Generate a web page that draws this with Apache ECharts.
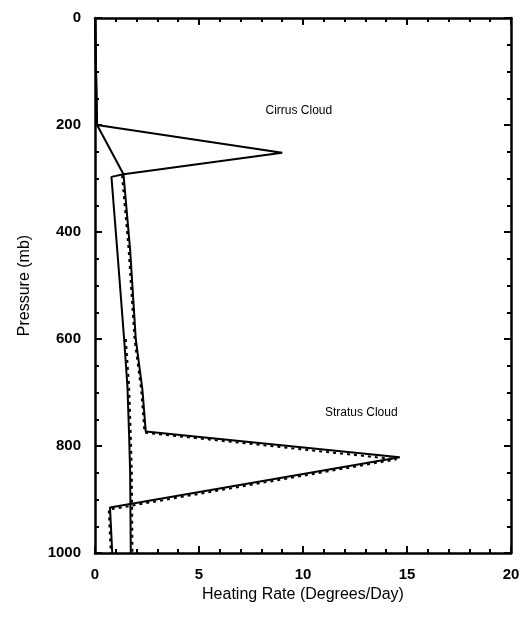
<!DOCTYPE html>
<html>
<head>
<meta charset="utf-8">
<script src="https://cdn.jsdelivr.net/npm/echarts@6/dist/echarts.min.js"></script>
<style>html,body{margin:0;padding:0;background:#fff}#c{width:523px;height:627px}</style>
</head>
<body>
<div id="c"></div>
<script>
// Cirrus cloud case (solid)
var cirrusX = [0, 0.05, 0.1, 9.0, 1.37, 0.79, 1.07, 1.40, 1.56, 1.64, 1.69, 1.72];
var cirrusP = [0, 100, 200, 252, 292, 297, 434, 600, 689, 780, 850, 1000];
// Stratus cloud case (solid)
var stratusX = [0, 0.05, 0.1, 1.37, 1.69, 1.96, 2.28, 2.44, 14.65, 0.72, 0.83];
var stratusP = [0, 100, 200, 292, 434, 600, 695, 773, 821, 915, 1000];
// Dashed companion curves
var dashAX = [1.30, 1.62, 1.90, 2.22, 2.38, 14.5, 0.66, 0.76];
var dashAP = [294, 434, 600, 695, 775, 825, 919, 1000];
var dashBX = [1.48, 1.64, 1.72, 1.77, 1.80];
var dashBP = [600, 689, 780, 850, 1000];
// Annotations
var labelText = ["Cirrus Cloud", "Stratus Cloud"];
var labelX = [9.8, 12.8];
var labelP = [173, 738];
var xTicks = [0, 5, 10, 15, 20];
var yTicks = [0, 200, 400, 600, 800, 1000];

function zip(xs, ps) { return xs.map(function (v, i) { return [v, ps[i]]; }); }

var FONT = '"Liberation Sans", Arial, sans-serif';
var axisLine = { show: true, onZero: false, lineStyle: { color: '#000', width: 2.5 } };
var tick = { show: true, inside: true, length: 7, lineStyle: { color: '#000', width: 2 } };
var minor = { show: true, length: 4, lineStyle: { color: '#000', width: 2 } };
var plain = function (v) { return String(v); };

var chart = echarts.init(document.getElementById('c'));
var lineBase = { type: 'line', symbol: 'none', smooth: false, silent: true, animation: false };
chart.setOption({
  backgroundColor: '#fff',
  animation: false,
  grid: { left: 95, right: 12, top: 18, bottom: 74 },
  xAxis: [{
    type: 'value', position: 'bottom', min: xTicks[0], max: xTicks[xTicks.length - 1], interval: 5,
    axisLine: axisLine, axisTick: tick, minorTick: Object.assign({ splitNumber: 5 }, minor),
    splitLine: { show: false },
    axisLabel: { color: '#000', fontFamily: FONT, fontWeight: 'bold', fontSize: 15, margin: 14, formatter: plain },
    name: 'Heating Rate (Degrees/Day)', nameLocation: 'middle', nameGap: 31,
    nameTextStyle: { color: '#000', fontFamily: FONT, fontSize: 16 }
  }, {
    type: 'value', position: 'top', min: 0, max: 20, interval: 5,
    axisLine: axisLine, axisTick: tick, minorTick: Object.assign({ splitNumber: 5 }, minor),
    splitLine: { show: false }, axisLabel: { show: false }
  }],
  yAxis: [{
    type: 'value', position: 'left', inverse: true, min: yTicks[0], max: yTicks[yTicks.length - 1], interval: 200,
    axisLine: axisLine, axisTick: tick, minorTick: Object.assign({ splitNumber: 4 }, minor),
    splitLine: { show: false },
    axisLabel: { color: '#000', fontFamily: FONT, fontWeight: 'bold', fontSize: 15, margin: 14, formatter: plain },
    name: 'Pressure (mb)', nameLocation: 'middle', nameGap: 62, nameRotate: 90,
    nameTextStyle: { color: '#000', fontFamily: FONT, fontSize: 16 }
  }, {
    type: 'value', position: 'right', inverse: true, min: 0, max: 1000, interval: 200,
    axisLine: axisLine, axisTick: tick, minorTick: Object.assign({ splitNumber: 4 }, minor),
    splitLine: { show: false }, axisLabel: { show: false }
  }],
  series: [
    Object.assign({}, lineBase, { name: 'Cirrus', data: zip(cirrusX, cirrusP), lineStyle: { color: '#000', width: 2 } }),
    Object.assign({}, lineBase, { name: 'Stratus', data: zip(stratusX, stratusP), lineStyle: { color: '#000', width: 2 } }),
    Object.assign({}, lineBase, { name: 'DashA', data: zip(dashAX, dashAP), lineStyle: { color: '#000', width: 2, type: [3, 4] } }),
    Object.assign({}, lineBase, { name: 'DashB', data: zip(dashBX, dashBP), lineStyle: { color: '#000', width: 2, type: [3, 4] } })
  ]
});

var g = labelText.map(function (t, i) {
  var p = chart.convertToPixel({ xAxisIndex: 0, yAxisIndex: 0 }, [labelX[i], labelP[i]]);
  return { type: 'text', x: p[0], y: p[1], silent: true,
    style: { text: t, fill: '#000', font: '12px ' + FONT, align: 'center', verticalAlign: 'middle' } };
});
chart.setOption({ graphic: g });
</script>
</body>
</html>
